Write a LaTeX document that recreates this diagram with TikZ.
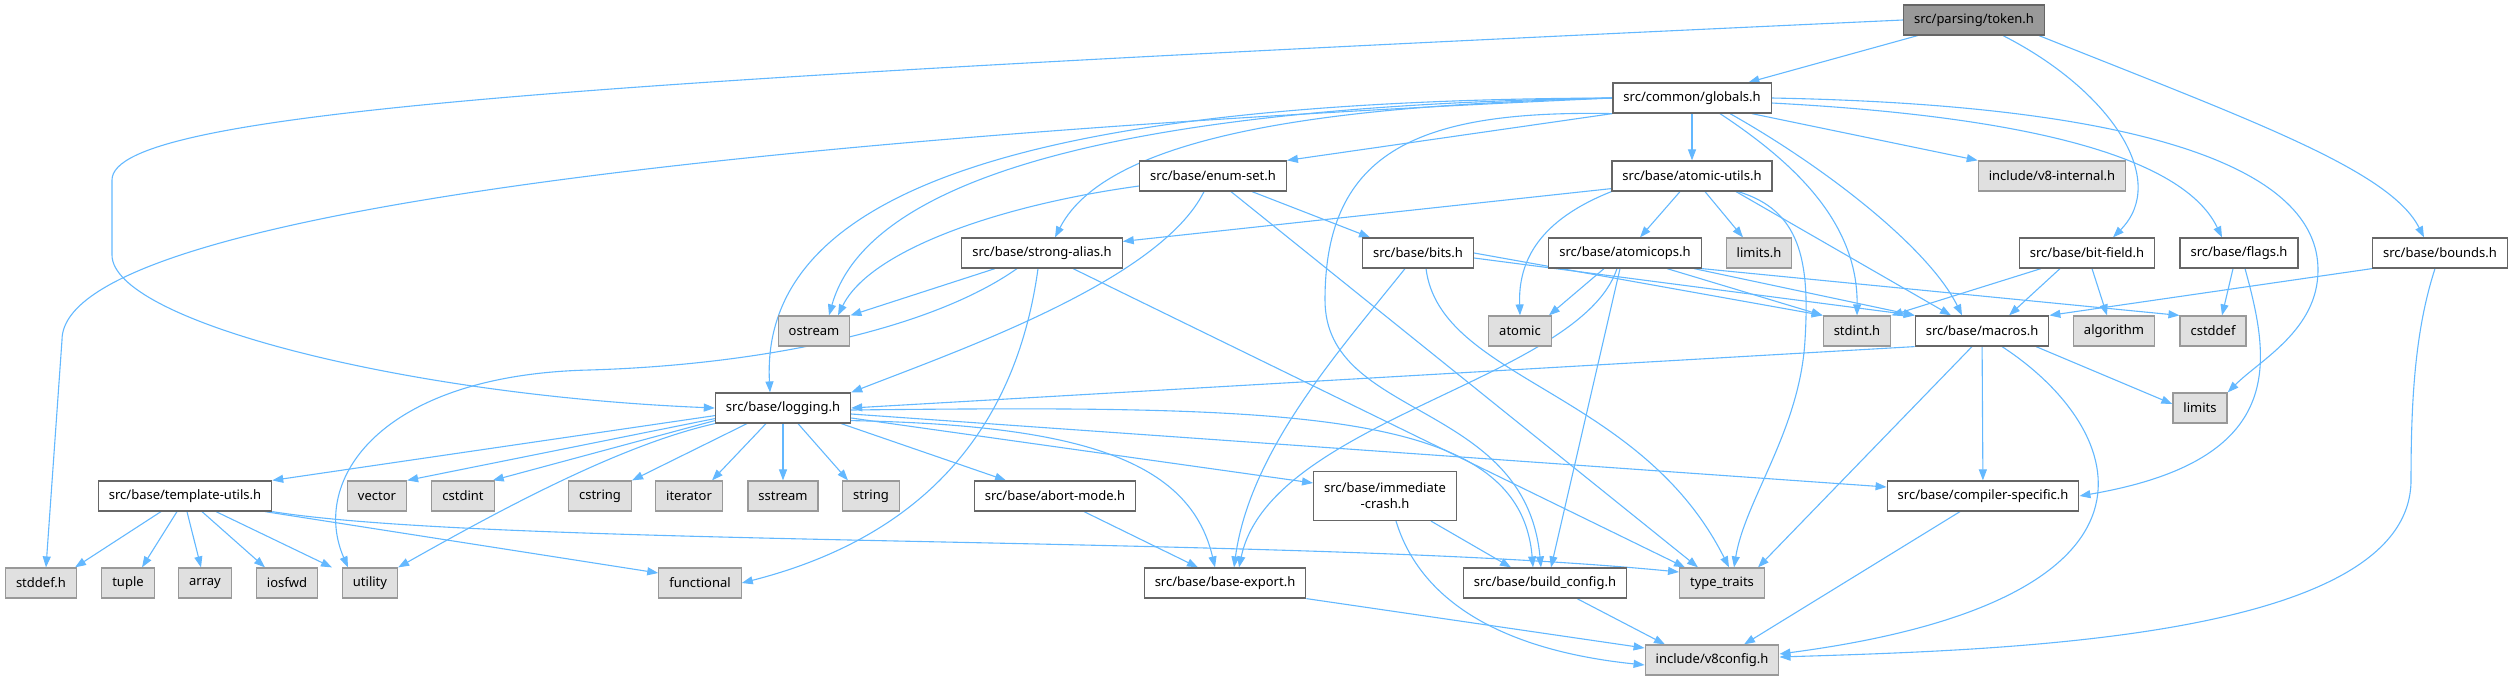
\documentclass[tikz,border=0pt]{standalone}
\usepackage{fontspec}
\setmainfont{Noto Sans}
\usetikzlibrary{arrows.meta,backgrounds}
\definecolor{edgeblue}{HTML}{63B8FF}
\definecolor{boxline}{HTML}{666666}
\definecolor{sysline}{HTML}{999999}
\definecolor{sysfill}{HTML}{E0E0E0}
\definecolor{rootfill}{HTML}{999999}
\tikzset{
  hdr/.style  = {draw=boxline, fill=white, line width=1.2pt, minimum height=30pt,
                 inner xsep=10.5pt, inner ysep=2pt, font=\fontsize{13}{16}\selectfont},
  sys/.style  = {hdr, draw=sysline, fill=sysfill},
  root/.style = {hdr, fill=rootfill},
  inc/.style  = {draw=edgeblue, line width=1.1pt, -{Triangle[length=11pt,width=8pt]}},
}

\begin{document}
\begin{tikzpicture}[x=1pt,y=-1pt]
  \useasboundingbox (0,0) rectangle (2513,681);
  % rows of headers, top to bottom
  \node[root] (token) at (1974,20) {src/parsing/token.h};
  \node[hdr] (globals) at (1692,98) {src/common/globals.h};
  \node[hdr] (enumset) at (1213,176) {src/base/enum-set.h};
  \node[hdr] (atomicutils) at (1692,176) {src/base/atomic-utils.h};
  \node[sys] (v8internal) at (2052,176) {include/v8-internal.h};
  \node[hdr] (strongalias) at (1042,253) {src/base/strong-alias.h};
  \node[hdr] (bits) at (1418,253) {src/base/bits.h};
  \node[hdr] (atomicops) at (1625,253) {src/base/atomicops.h};
  \node[sys] (limitsh) at (1759,253) {limits.h};
  \node[hdr] (bitfield) at (2087,253) {src/base/bit-field.h};
  \node[hdr] (flags) at (2239,253) {src/base/flags.h};
  \node[hdr] (bounds) at (2440,253) {src/base/bounds.h};
  \node[sys] (ostream) at (814,331) {ostream};
  \node[sys] (atomic) at (1520,331) {atomic};
  \node[sys] (stdint) at (1857,331) {stdint.h};
  \node[hdr] (macros) at (1982,331) {src/base/macros.h};
  \node[sys] (algorithm) at (2114,331) {algorithm};
  \node[sys] (cstddef) at (2213,331) {cstddef};
  \node[hdr] (logging) at (783,408) {src/base/logging.h};
  \node[sys] (limits) at (2200,408) {limits};
  \node[hdr] (templateutils) at (185,496) {src/base/template-utils.h};
  \node[sys] (vector) at (377,496) {vector};
  \node[sys] (cstdint) at (463,496) {cstdint};
  \node[sys] (cstring) at (600,496) {cstring};
  \node[sys] (iterator) at (689,496) {iterator};
  \node[sys] (sstream) at (783,496) {sstream};
  \node[sys] (string) at (871,496) {string};
  \node[hdr] (abortmode) at (1055,496) {src/base/abort-mode.h};
  \node[hdr, align=center, minimum height=49pt] (immcrash) at (1385,496) {src/base/immediate\\-crash.h};
  \node[hdr] (compspec) at (1983,496) {src/base/compiler-specific.h};
  \node[sys] (stddef) at (41,583) {stddef.h};
  \node[sys] (tuple) at (128,583) {tuple};
  \node[sys] (array) at (205,583) {array};
  \node[sys] (iosfwd) at (287,583) {iosfwd};
  \node[sys] (utility) at (370,583) {utility};
  \node[sys] (functional) at (700,583) {functional};
  \node[hdr] (baseexport) at (1225,583) {src/base/base-export.h};
  \node[hdr] (buildconfig) at (1545,583) {src/base/build\_config.h};
  \node[sys] (typetraits) at (1722,583) {type\_traits};
  \node[sys] (v8config) at (1712,660) {include/v8config.h};

  \begin{scope}[on background layer]
  % token.h
  \draw[inc] (token) -- (globals);
  \draw[inc] (token.west) .. controls (600,80) and (112,110) .. (112,180) -- (112,255)
    .. controls (112,320) and (400,395) .. (logging.west);
  \draw[inc] ([xshift=29pt]token.south) .. controls (2110,90) and (2170,180) .. ([xshift=26pt]bitfield.north);
  \draw[inc] ([xshift=65pt]token.south) .. controls (2250,120) and (2390,170) .. ([xshift=-16pt]bounds.north);
  % globals.h
  \draw[inc] (globals) -- (atomicutils);
  \draw[inc] (globals.south west) -- (enumset.north east);
  \draw[inc] (globals.west) .. controls (1350,105) and (1110,130) .. ([xshift=13pt]strongalias.north);
  \draw[inc] (globals.west) .. controls (1000,100) and (760,200) .. ([xshift=-13pt]logging.north);
  \draw[inc] (globals.west) .. controls (1150,105) and (870,170) .. ([xshift=15pt]ostream.north);
  \draw[inc] (globals.west) .. controls (900,130) and (62,200) .. (62,340) -- ([xshift=5pt]stddef.north);
  \draw[inc] (globals.south west) .. controls (1420,110) and (1325,150) .. (1325,300)
    .. controls (1325,420) and (1525,400) .. ([xshift=-4pt]buildconfig.north);
  \draw[inc] ([xshift=-20pt]globals.south east) -- (v8internal.north west);
  \draw[inc] ([yshift=-5pt]globals.east) .. controls (2000,115) and (2180,150) .. ([xshift=-17pt]flags.north);
  \draw[inc] (globals.east) .. controls (2150,105) and (2318,170) .. (2318,270)
    .. controls (2318,330) and (2260,360) .. (limits.north east);
  \draw[inc] ([xshift=28pt]globals.south) .. controls (1790,160) and (1858,220) .. (stdint.north);
  \draw[inc] ([xshift=38pt]globals.south) .. controls (1830,170) and (1930,250) .. ([xshift=-20pt]macros.north);
  % atomic-utils.h
  \draw[inc] (atomicutils.south west) .. controls (1540,220) and (1518,260) .. (atomic.north);
  \draw[inc] ([xshift=-12pt]atomicutils.south) -- ([xshift=15pt]atomicops.north);
  \draw[inc] ([xshift=13pt]atomicutils.south) -- ([xshift=-16pt]limitsh.north);
  \draw[inc] ([xshift=44pt]atomicutils.south) -- ([xshift=-31pt]macros.north);
  \draw[inc] ([xshift=46pt]atomicutils.south) .. controls (1800,210) and (1810,260) .. (1805,340)
    .. controls (1800,430) and (1745,500) .. ([xshift=12pt]typetraits.north);
  \draw[inc] ([yshift=3pt]atomicutils.south west) -- ([yshift=-4pt]strongalias.north east);
  % enum-set.h
  \draw[inc] ([yshift=-10pt]enumset.west) .. controls (1000,205) and (870,250) .. ([xshift=24pt]ostream.north);
  \draw[inc] ([xshift=-9pt]enumset.south) .. controls (1160,280) and (960,350) .. (logging.north east);
  \draw[inc] ([xshift=39pt]enumset.south) -- ([xshift=-48pt]bits.north);
  \draw[inc] ([xshift=18pt]enumset.south) -- ([xshift=-24pt]typetraits.north);
  % strong-alias.h
  \draw[inc] ([xshift=-47pt]strongalias.south) -- (ostream.north east);
  \draw[inc] ([xshift=-25pt]strongalias.south) .. controls (930,330) and (760,365) .. (589,370)
    .. controls (380,375) and (310,480) .. ([xshift=-22pt]utility.north);
  \draw[inc] ([xshift=-4pt]strongalias.south) .. controls (1020,400) and (950,530) .. (functional.east);
  \draw[inc] ([xshift=31pt]strongalias.south) -- ([xshift=-37pt]typetraits.north);
  % bits.h
  \draw[inc] (bits.east) -- (stdint.north west);
  \draw[inc] ([yshift=-5pt]bits.east) -- (macros.north west);
  \draw[inc] ([xshift=-13pt]bits.south) .. controls (1340,350) and (1250,450) .. ([xshift=9pt]baseexport.north);
  \draw[inc] ([xshift=8pt]bits.south) .. controls (1440,380) and (1640,390) .. ([xshift=7pt]typetraits.north);
  % atomicops.h
  \draw[inc] ([xshift=-21pt]atomicops.south) -- ([xshift=-3pt]atomic.north east);
  \draw[inc] ([xshift=42pt]atomicops.south) -- (stdint.north west);
  \draw[inc] ([xshift=69pt]atomicops.south) -- (macros.north west);
  \draw[inc] (atomicops.south east) -- (cstddef.north west);
  \draw[inc] ([xshift=-8pt]atomicops.south) .. controls (1580,380) and (1270,420) .. ([xshift=14pt]baseexport.north);
  \draw[inc] ([xshift=-5pt]atomicops.south) -- ([xshift=6pt]buildconfig.north);
  % bit-field.h, flags.h, bounds.h
  \draw[inc] ([xshift=-46pt]bitfield.south) -- (stdint.north east);
  \draw[inc] ([xshift=-27pt]bitfield.south) -- ([xshift=27pt]macros.north);
  \draw[inc] ([xshift=5pt]bitfield.south) -- ([xshift=-7pt]algorithm.north);
  \draw[inc] ([xshift=-6pt]flags.south) -- ([xshift=9pt]cstddef.north);
  \draw[inc] ([xshift=6pt]flags.south) .. controls (2270,360) and (2290,460) .. (compspec.east);
  \draw[inc] (bounds.south west) -- (macros.north east);
  \draw[inc] ([xshift=-5pt]bounds.south) .. controls (2415,330) and (2411,400) .. (2411,480)
    .. controls (2411,640) and (2000,650) .. ([yshift=3pt]v8config.east);
  % macros.h
  \draw[inc] (macros.south west) -- (logging.east);
  \draw[inc] ([xshift=54pt]macros.south) -- ([yshift=4pt]limits.west);
  \draw[inc] (macros) -- (compspec);
  \draw[inc] ([xshift=-10pt]macros.south) -- ([xshift=36pt]typetraits.north);
  \draw[inc] ([xshift=20pt]macros.south) .. controls (2130,430) and (2190,600) .. ([yshift=6pt]v8config.east);
  % logging.h
  \draw[inc] ([yshift=8pt]logging.south west) -- (templateutils.north east);
  \draw[inc] ([yshift=5pt]logging.south west) -- (vector.north east);
  \draw[inc] ([yshift=3pt]logging.south west) -- ([xshift=-2pt]cstdint.north east);
  \draw[inc] (logging.south west) .. controls (620,445) and (500,510) .. (utility.north east);
  \draw[inc] ([xshift=-36pt]logging.south) -- (cstring.north east);
  \draw[inc] ([xshift=-17pt]logging.south) -- ([xshift=23pt]iterator.north);
  \draw[inc] (logging) -- (sstream);
  \draw[inc] ([xshift=15pt]logging.south) -- ([xshift=-23pt]string.north);
  \draw[inc] ([xshift=-10pt]logging.south east) -- ([xshift=-49pt]abortmode.north);
  \draw[inc] ([yshift=3pt]logging.south east) .. controls (1080,425) and (1190,460) .. ([xshift=-10pt]baseexport.north);
  \draw[inc] ([yshift=-10pt]logging.east) -- ([yshift=13pt]immcrash.west);
  \draw[inc] ([yshift=-2pt]logging.east) .. controls (1300,405) and (1520,410) .. ([xshift=-12pt]buildconfig.north);
  \draw[inc] ([yshift=-6pt]logging.east) -- ([yshift=9pt]compspec.west);
  % template-utils.h
  \draw[inc] ([xshift=-24pt]templateutils.south) -- ([xshift=34pt]stddef.north);
  \draw[inc] ([xshift=-8pt]templateutils.south) -- ([xshift=14pt]tuple.north);
  \draw[inc] ([xshift=2pt]templateutils.south) -- ([xshift=-4pt]array.north);
  \draw[inc] ([xshift=17pt]templateutils.south) -- ([xshift=-22pt]iosfwd.north);
  \draw[inc] ([xshift=31pt]templateutils.south) -- ([xshift=-38pt]utility.north);
  \draw[inc] ([xshift=80pt]templateutils.south) -- ([yshift=10pt]functional.west);
  \draw[inc] (templateutils.south east) .. controls (500,548) and (1300,535) .. ([yshift=11pt]typetraits.west);
  % lower headers
  \draw[inc] ([xshift=29pt]abortmode.south) -- ([xshift=-27pt]baseexport.north);
  \draw[inc] ([xshift=46pt]immcrash.south) -- ([xshift=-34pt]buildconfig.north);
  \draw[inc] ([xshift=11pt]immcrash.south) .. controls (1420,600) and (1500,650) .. ([yshift=-5pt]v8config.west);
  \draw[inc] (baseexport.south east) -- ([yshift=12pt]v8config.west);
  \draw[inc] ([xshift=32pt]buildconfig.south) -- ([xshift=-47pt]v8config.north);
  \draw[inc] ([xshift=-23pt]compspec.south) -- ([xshift=32pt]v8config.north);
  \end{scope}
\end{tikzpicture}
\end{document}
